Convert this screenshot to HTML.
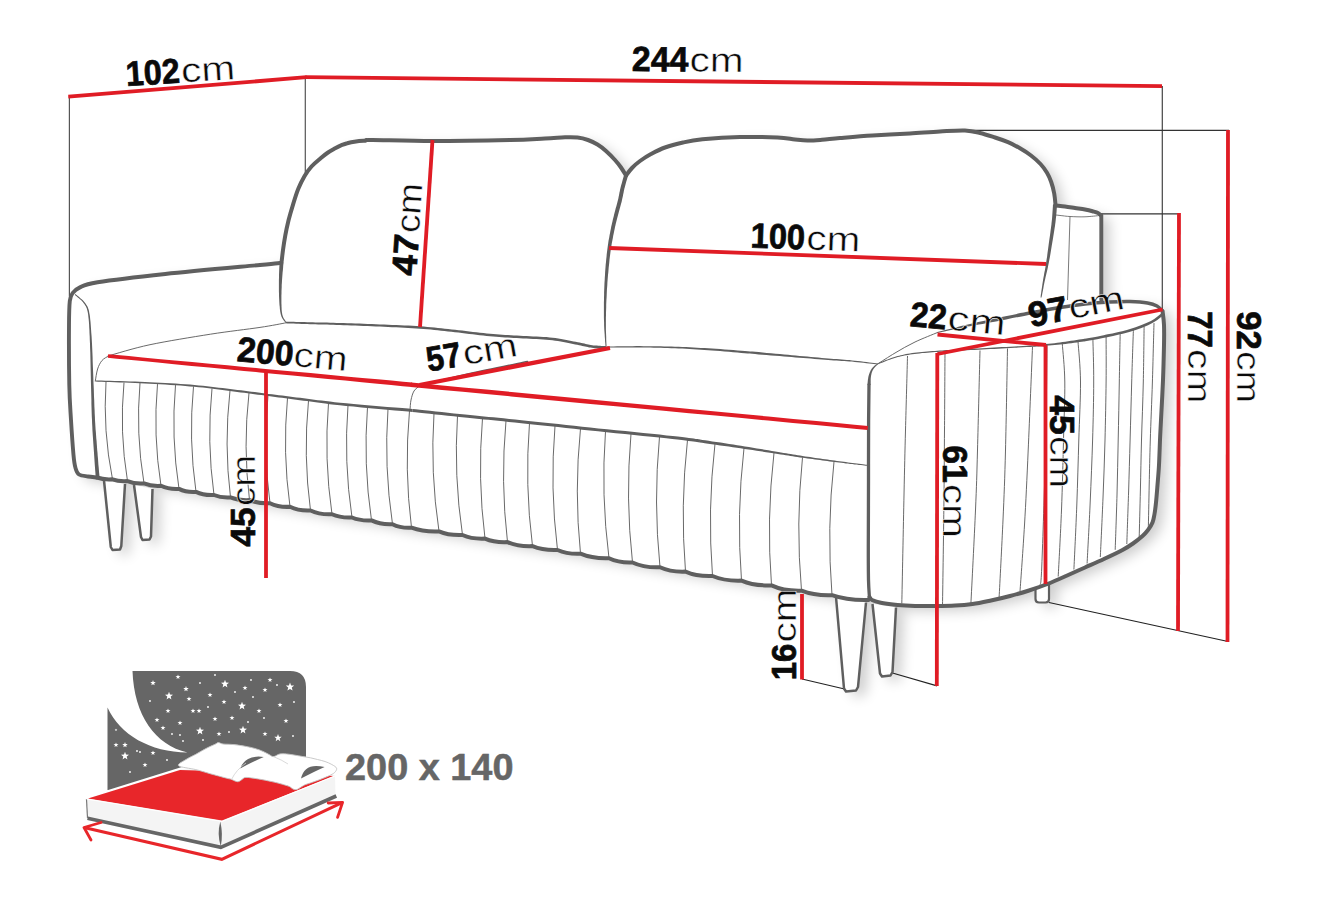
<!DOCTYPE html>
<html lang="en">
<head>
<meta charset="utf-8">
<title>Sofa dimensions</title>
<style>
html,body{margin:0;padding:0;background:#fff;}
body{width:1330px;height:908px;overflow:hidden;}
svg{display:block;}
text{font-family:"Liberation Sans",sans-serif;}
</style>
</head>
<body>
<svg width="1330" height="908" viewBox="0 0 1330 908">
<defs>
<filter id="sh" x="-5%" y="-5%" width="112%" height="115%">
<feGaussianBlur in="SourceAlpha" stdDeviation="6.5" result="b"/>
<feOffset in="b" dx="8" dy="5" result="o"/>
<feComponentTransfer in="o" result="s"><feFuncA type="linear" slope="0.2"/></feComponentTransfer>
<feMerge><feMergeNode in="s"/><feMergeNode in="SourceGraphic"/></feMerge>
</filter>
</defs>
<rect width="1330" height="908" fill="#fff"/>
<!-- sofa drawing -->
<g filter="url(#sh)">
<path d="M280.0 263.0L278.7 263.1L277.6 263.3L275.9 263.4L272.9 263.7L267.9 264.2L260.0 265.0L248.2 266.1L233.0 267.5L215.6 269.1L197.6 270.8L180.4 272.5L165.3 274.0L151.9 275.5L138.9 276.9L126.7 278.4L115.5 279.8L105.7 281.1L97.6 282.3L91.6 283.4L87.5 284.3L84.7 285.1L82.9 285.9L81.3 286.8L79.5 287.6L77.7 288.5L76.3 289.3L75.2 290.1L74.3 290.9L73.6 291.9L72.8 292.9L72.1 293.9L71.4 294.8L70.9 295.8L70.5 297.0L70.1 298.7L69.8 301.0L69.5 303.7L69.3 306.5L69.2 309.8L69.1 313.7L69.0 318.7L69.0 325.0L69.0 333.2L69.0 343.3L69.0 354.3L69.1 365.5L69.2 376.0L69.3 385.0L69.5 392.3L69.7 398.5L70.0 404.1L70.3 409.3L70.7 414.5L71.0 420.0L71.4 426.1L71.8 432.5L72.2 438.9L72.7 445.0L73.1 450.4L73.5 455.0L73.8 458.5L74.1 461.2L74.4 463.3L74.7 465.0L75.1 466.5L75.5 468.0L75.9 469.5L76.4 470.8L76.8 471.9L77.4 472.9L78.1 473.8L79.0 474.5L80.2 475.1L81.6 475.5L83.2 475.8L84.8 476.1L86.4 476.3L88.0 476.5L89.6 476.7L91.3 476.9L93.1 477.1L94.7 477.3L96.0 477.4L97.0 477.5L97.0 477.5L99.9 477.8L103.9 478.3L108.7 478.8L113.9 479.4L119.5 480.1L125.0 480.8L130.5 481.5L136.2 482.2L142.2 483.0L148.5 483.9L155.3 484.9L162.5 486.0L170.4 487.3L179.0 488.8L188.0 490.5L197.1 492.1L206.2 493.7L215.0 495.2L223.6 496.5L232.3 497.7L240.9 498.9L249.4 500.0L257.4 501.2L265.0 502.3L272.0 503.4L278.4 504.6L284.5 505.7L290.5 506.8L296.4 507.9L302.5 509.0L308.8 510.2L315.2 511.3L321.6 512.5L327.9 513.7L334.0 514.8L340.0 515.8L345.6 516.7L351.0 517.4L356.2 518.1L361.5 518.8L366.9 519.6L372.5 520.5L378.5 521.6L384.9 522.8L391.4 524.0L397.9 525.3L404.1 526.5L410.0 527.5L415.5 528.3L420.8 529.1L425.9 529.7L430.8 530.3L435.5 530.9L440.0 531.5L443.9 532.1L447.1 532.6L450.2 533.0L453.4 533.6L457.4 534.2L462.5 535.0L469.0 536.0L476.5 537.2L484.7 538.5L493.2 539.9L501.8 541.2L510.0 542.5L517.9 543.7L525.7 545.0L533.6 546.2L541.5 547.5L549.4 548.7L557.5 550.0L566.0 551.3L574.9 552.8L583.9 554.2L592.6 555.6L600.6 556.9L607.5 558.0L612.9 558.9L617.1 559.7L620.6 560.3L624.0 560.9L627.8 561.6L632.5 562.5L638.4 563.6L645.2 564.7L652.3 566.0L659.5 567.3L666.4 568.4L672.5 569.5L677.7 570.4L682.2 571.1L686.4 571.8L690.6 572.5L695.0 573.2L700.0 574.0L705.7 574.9L711.8 575.9L718.1 576.9L724.6 577.9L731.1 579.0L737.5 580.0L743.9 581.0L750.5 582.1L757.0 583.1L763.4 584.1L769.5 585.1L775.0 586.0L779.7 586.8L783.8 587.6L787.5 588.3L791.2 589.0L795.3 589.7L800.0 590.5L805.6 591.4L811.8 592.3L818.4 593.3L825.0 594.2L831.5 595.2L837.5 596.0L843.4 596.8L849.5 597.6L855.3 598.3L860.7 599.0L865.2 599.6L868.5 600.0L869.5 597.0L869.7 597.3L869.9 597.8L870.1 598.3L870.5 598.9L871.1 599.5L872.0 600.0L873.2 600.5L874.6 601.0L876.2 601.6L878.0 602.1L879.9 602.6L882.0 603.0L884.2 603.4L886.7 603.8L889.3 604.1L892.0 604.4L894.7 604.7L897.5 605.0L900.3 605.2L903.1 605.4L906.0 605.6L908.9 605.8L911.9 605.9L915.0 606.0L918.2 606.1L921.5 606.1L924.8 606.1L928.2 606.1L931.6 606.0L935.0 606.0L938.4 606.0L941.8 605.9L945.2 605.8L948.5 605.8L951.8 605.6L955.0 605.5L958.0 605.3L961.0 605.1L963.8 604.9L966.7 604.7L969.6 604.4L972.5 604.0L975.5 603.5L978.6 603.0L981.7 602.4L984.8 601.8L987.9 601.2L991.0 600.5L994.1 599.8L997.3 599.1L1000.5 598.4L1003.6 597.6L1006.8 596.8L1010.0 596.0L1013.2 595.2L1016.4 594.3L1019.5 593.4L1022.7 592.4L1025.9 591.5L1029.0 590.5L1032.1 589.5L1035.2 588.5L1038.3 587.4L1041.4 586.3L1044.4 585.2L1047.5 584.0L1050.6 582.8L1053.6 581.5L1056.7 580.1L1059.8 578.8L1062.9 577.4L1066.0 576.0L1069.1 574.6L1072.3 573.2L1075.5 571.8L1078.6 570.4L1081.8 568.9L1085.0 567.5L1088.2 566.1L1091.4 564.7L1094.5 563.3L1097.7 561.9L1100.9 560.4L1104.0 559.0L1107.2 557.5L1110.5 555.9L1113.8 554.4L1116.9 552.8L1119.9 551.4L1122.5 550.0L1124.7 548.8L1126.6 547.7L1128.3 546.7L1129.9 545.6L1131.4 544.6L1133.0 543.5L1134.7 542.3L1136.4 541.0L1138.1 539.7L1139.7 538.4L1141.2 537.2L1142.5 536.0L1143.7 534.9L1144.7 533.9L1145.6 533.0L1146.4 532.1L1147.2 531.1L1148.0 530.0L1148.8 528.8L1149.7 527.6L1150.5 526.4L1151.2 525.1L1151.9 523.8L1152.5 522.5L1153.0 521.2L1153.4 519.9L1153.7 518.5L1154.0 517.1L1154.2 515.6L1154.5 514.0L1154.8 512.3L1155.0 510.6L1155.3 508.8L1155.5 506.9L1155.8 504.8L1156.0 502.5L1156.3 500.0L1156.5 497.2L1156.8 494.3L1157.0 491.2L1157.2 488.1L1157.5 485.0L1157.8 481.9L1158.0 478.7L1158.3 475.5L1158.5 472.1L1158.8 468.7L1159.0 465.0L1159.2 461.1L1159.4 456.9L1159.5 452.5L1159.7 448.1L1159.8 443.9L1160.0 440.0L1160.2 436.6L1160.3 433.7L1160.4 430.9L1160.6 428.0L1160.8 424.4L1161.0 420.0L1161.3 414.4L1161.6 408.0L1162.0 400.9L1162.4 393.7L1162.7 386.6L1163.0 380.0L1163.2 373.7L1163.4 367.4L1163.6 361.2L1163.8 355.4L1163.9 349.9L1164.0 345.0L1164.1 340.7L1164.1 337.0L1164.2 333.7L1164.1 330.7L1164.1 327.8L1164.0 325.0L1163.8 322.2L1163.6 319.4L1163.2 316.8L1162.9 314.4L1162.7 312.5L1162.5 311.0L1162.5 311.0L1161.9 310.4L1161.2 309.6L1160.3 308.7L1159.3 307.7L1158.2 306.8L1157.0 306.0L1155.7 305.4L1154.4 304.8L1153.0 304.3L1151.4 303.8L1149.6 303.4L1147.5 303.0L1145.1 302.6L1142.4 302.3L1139.4 302.0L1136.3 301.8L1133.2 301.6L1130.0 301.5L1126.9 301.5L1123.7 301.5L1120.5 301.5L1117.1 301.6L1113.7 301.8L1110.0 302.0L1106.1 302.2L1102.0 302.5L1101.5 215.5L1101.0 215.5L1100.7 215.2L1100.3 214.8L1099.8 214.4L1099.3 213.9L1098.7 213.4L1098.0 213.0L1097.3 212.7L1096.4 212.4L1095.5 212.1L1094.6 211.8L1093.6 211.6L1092.5 211.3L1091.4 211.0L1090.2 210.7L1089.0 210.4L1087.8 210.1L1086.4 209.8L1085.0 209.5L1083.5 209.2L1081.9 209.0L1080.2 208.7L1078.4 208.5L1076.7 208.2L1075.0 208.0L1073.3 207.7L1071.7 207.5L1070.0 207.2L1068.3 207.0L1066.7 206.7L1065.0 206.5L1063.2 206.3L1061.3 206.1L1059.4 205.9L1057.6 205.7L1056.1 205.6L1055.0 205.5L1055.5 205.0L1055.4 203.7L1055.2 202.0L1055.0 200.0L1054.8 197.8L1054.5 195.5L1054.2 193.5L1053.8 191.6L1053.4 189.6L1052.9 187.6L1052.4 185.7L1051.8 183.8L1051.2 182.0L1050.6 180.3L1050.0 178.7L1049.3 177.2L1048.6 175.8L1047.8 174.3L1047.0 172.8L1046.1 171.3L1045.1 169.8L1044.1 168.4L1043.0 166.9L1041.8 165.4L1040.5 164.0L1039.1 162.6L1037.6 161.1L1036.0 159.7L1034.4 158.2L1032.7 156.8L1031.0 155.5L1029.3 154.2L1027.5 153.0L1025.7 151.8L1023.8 150.6L1021.9 149.4L1020.0 148.3L1018.1 147.2L1016.1 146.1L1014.1 145.1L1012.1 144.1L1010.1 143.1L1008.0 142.2L1005.9 141.3L1003.8 140.5L1001.7 139.8L999.5 139.0L997.3 138.3L995.0 137.5L992.6 136.7L990.1 135.9L987.6 135.1L985.1 134.3L982.5 133.6L980.0 133.0L977.6 132.4L975.4 131.9L973.1 131.4L970.7 131.0L968.1 130.7L965.0 130.5L961.5 130.5L957.6 130.5L953.4 130.7L949.1 131.0L944.6 131.2L940.0 131.5L935.4 131.8L930.6 132.1L925.8 132.4L920.7 132.8L915.5 133.2L910.0 133.5L904.1 133.8L897.9 134.1L891.4 134.5L884.9 134.8L878.5 135.1L872.5 135.5L866.6 135.9L860.8 136.3L855.0 136.8L849.6 137.2L844.5 137.6L840.0 138.0L836.1 138.4L832.8 138.7L829.9 139.0L827.2 139.3L824.6 139.6L822.0 139.8L819.4 140.0L816.8 140.2L814.4 140.3L812.1 140.4L809.8 140.5L807.5 140.5L805.4 140.4L803.4 140.3L801.4 140.2L799.5 140.0L797.3 139.7L795.0 139.5L792.6 139.2L790.3 138.9L787.8 138.5L785.0 138.1L781.6 137.8L777.5 137.5L772.4 137.3L766.5 137.1L760.0 137.0L753.2 136.9L746.5 136.9L740.0 137.0L733.5 137.2L726.8 137.5L720.1 137.9L713.7 138.4L707.7 138.8L702.5 139.3L698.2 139.8L694.6 140.2L691.5 140.7L688.7 141.3L686.0 141.9L683.0 142.5L679.9 143.2L676.7 144.0L673.7 144.8L670.6 145.7L667.8 146.6L665.0 147.5L662.4 148.5L659.9 149.5L657.6 150.6L655.3 151.7L653.1 152.9L651.0 154.0L649.0 155.1L647.0 156.3L645.1 157.5L643.3 158.6L641.6 159.8L640.0 161.0L638.5 162.2L637.0 163.3L635.7 164.5L634.4 165.6L633.2 166.8L632.0 168.0L630.8 169.3L629.6 170.7L628.5 172.2L627.5 173.5L626.6 174.7L626.0 175.5L626.0 175.5L625.5 174.6L624.7 173.4L623.9 172.0L622.9 170.4L621.9 168.9L621.0 167.5L620.1 166.2L619.2 165.0L618.2 163.8L617.3 162.6L616.2 161.3L615.0 160.0L613.7 158.6L612.2 157.0L610.7 155.4L609.1 153.9L607.5 152.4L606.0 151.0L604.6 149.7L603.2 148.6L601.8 147.5L600.4 146.4L599.0 145.4L597.5 144.5L596.0 143.6L594.4 142.8L592.9 142.0L591.3 141.3L589.7 140.6L588.0 140.0L586.3 139.4L584.6 138.9L582.9 138.5L581.2 138.1L579.4 137.8L577.5 137.5L575.6 137.3L573.8 137.2L571.8 137.2L569.8 137.2L567.5 137.2L565.0 137.3L562.3 137.4L559.4 137.6L556.4 137.8L553.1 138.0L549.3 138.3L545.0 138.5L540.5 138.7L536.0 139.0L531.1 139.3L525.4 139.5L518.5 139.8L510.0 140.0L499.3 140.2L486.7 140.4L472.8 140.7L458.6 140.8L444.9 141.0L432.5 141.0L420.9 140.9L409.2 140.8L398.1 140.5L387.9 140.3L379.2 140.1L372.5 140.0L368.3 140.0L366.3 140.1L365.7 140.2L365.9 140.4L366.0 140.6L365.3 140.7L363.9 140.8L362.3 140.9L360.8 141.0L359.1 141.2L357.5 141.3L356.0 141.5L354.5 141.7L352.9 142.0L351.4 142.3L349.9 142.6L348.5 142.9L347.2 143.2L346.0 143.5L344.9 143.9L343.9 144.2L342.9 144.6L342.0 145.0L341.0 145.4L340.0 145.8L339.1 146.2L338.2 146.7L337.3 147.2L336.3 147.7L335.2 148.3L334.0 149.0L332.7 149.7L331.4 150.5L330.0 151.3L328.6 152.1L327.3 153.0L326.0 153.9L324.8 154.8L323.6 155.8L322.3 156.8L321.1 157.9L319.8 159.0L318.4 160.1L317.0 161.3L315.6 162.5L314.2 163.8L312.8 165.1L311.5 166.5L310.3 167.9L309.1 169.4L307.9 170.9L306.8 172.5L305.7 174.2L304.6 176.0L303.5 177.9L302.4 180.0L301.3 182.1L300.2 184.3L299.2 186.6L298.2 189.0L297.2 191.5L296.3 194.2L295.4 197.0L294.5 199.9L293.6 202.6L292.8 205.3L292.0 207.8L291.3 210.3L290.6 212.7L289.9 215.1L289.2 217.5L288.6 220.0L288.0 222.5L287.4 225.1L286.8 227.7L286.3 230.2L285.8 232.8L285.3 235.3L284.8 237.8L284.4 240.3L284.0 242.8L283.7 245.3L283.3 247.7L283.0 250.0L282.7 252.4L282.4 254.8L282.1 257.2L281.9 259.3L281.7 261.2L281.5 262.5Z" fill="#fff"/>
<path d="M104.0 480.5L110.8 547.0L112.5 550.0L120.0 549.5L121.3 546.0L125.0 484.0Z" fill="#fff"/>
<path d="M134.0 485.0L141.0 537.0L142.5 540.0L149.5 539.5L151.0 536.5L152.5 489.0Z" fill="#fff"/>
<path d="M836.0 597.0L844.0 688.5L846.0 691.5L856.0 690.5L858.0 687.0L866.0 602.5Z" fill="#fff"/>
<path d="M872.5 604.0L880.0 673.5L882.0 676.5L890.5 675.5L892.5 672.0L896.0 607.5Z" fill="#fff"/>
<path d="M1035.5 587.5V599Q1035.5 602.5 1039 602.5H1045.5Q1049 602.5 1049 599V584Z" fill="#fff"/>
</g>
<line x1="69.4" y1="96.0" x2="69.4" y2="296.0" stroke="#555" stroke-width="1.2" stroke-linecap="butt"/>
<line x1="305.3" y1="77.0" x2="305.3" y2="176.0" stroke="#555" stroke-width="1.2" stroke-linecap="butt"/>
<line x1="1162.3" y1="86.0" x2="1162.3" y2="309.0" stroke="#444" stroke-width="1.2" stroke-linecap="butt"/>
<line x1="962.0" y1="130.3" x2="1229.0" y2="130.3" stroke="#333" stroke-width="1.2" stroke-linecap="butt"/>
<line x1="1101.0" y1="213.8" x2="1180.0" y2="213.8" stroke="#333" stroke-width="1.2" stroke-linecap="butt"/>
<line x1="1049.0" y1="602.5" x2="1228.0" y2="641.5" stroke="#222" stroke-width="1.2" stroke-linecap="butt"/>
<line x1="802.0" y1="679.0" x2="844.5" y2="689.0" stroke="#222" stroke-width="1.2" stroke-linecap="butt"/>
<line x1="892.5" y1="673.0" x2="937.0" y2="685.8" stroke="#222" stroke-width="1.2" stroke-linecap="butt"/>
<path d="M106.0 381.9 Q102.8 430.6 112.5 479.3M124.0 382.5 Q119.3 431.8 127.5 481.1M140.0 383.0 Q135.6 433.2 144.0 483.4M157.5 384.1 Q152.9 434.9 161.0 485.8M175.5 385.1 Q170.9 437.0 179.0 488.9M193.5 386.4 Q188.4 439.1 196.0 491.9M212.0 388.5 Q206.6 441.7 214.0 495.0M230.0 390.5 Q223.9 444.0 230.5 497.4M249.0 392.9 Q242.9 446.5 249.5 500.1M268.0 395.4 Q262.6 449.3 270.0 503.2M287.5 397.9 Q282.4 452.3 290.0 506.8M308.5 400.6 Q303.1 455.5 310.5 510.5M328.5 403.1 Q323.9 458.7 332.0 514.3M348.0 405.2 Q343.6 461.4 352.0 517.5M367.5 407.0 Q363.1 463.7 371.5 520.4M388.0 408.8 Q383.9 466.5 392.5 524.2M409.5 410.7 Q404.1 469.2 411.5 527.7M434.0 413.3 Q430.1 472.3 439.0 531.4M457.5 415.7 Q453.6 475.4 462.5 535.0M482.5 418.2 Q477.4 478.4 485.0 538.6M506.0 420.6 Q500.4 481.4 507.5 542.1M529.5 423.0 Q524.6 484.5 532.5 546.1M555.0 425.8 Q549.8 487.9 557.5 550.0M580.5 428.5 Q574.1 491.1 580.5 553.7M605.5 431.1 Q600.8 494.7 609.0 558.3M631.0 433.7 Q625.3 498.1 632.5 562.5M659.5 436.7 Q653.3 502.0 660.0 567.3M687.5 439.9 Q680.1 505.8 685.5 571.6M715.0 443.7 Q707.3 509.9 712.5 576.0M744.0 448.1 Q736.3 514.4 741.5 580.6M774.0 452.8 Q766.3 519.1 771.5 585.4M802.5 457.4 Q795.6 524.0 801.5 590.7M834.0 461.7 Q826.6 528.4 832.0 595.2" fill="none" stroke="#585858" stroke-width="0.9"/>
<path d="M907.5 356.0C907.2 368.3 906.1 406.8 905.5 430.0C904.9 453.2 904.6 466.1 904.0 495.0C903.4 523.9 902.2 585.4 901.8 603.5M945.0 352.5C944.9 365.4 944.7 406.2 944.5 430.0C944.3 453.8 944.3 465.8 944.0 495.0C943.7 524.2 942.8 587.1 942.5 605.5M980.0 350.5C979.6 367.1 978.2 423.4 977.5 450.0C976.8 476.6 976.6 484.4 975.5 510.0C974.4 535.6 971.7 587.9 970.9 603.5M1007.5 348.5C1007.2 365.4 1006.2 421.4 1005.5 450.0C1004.8 478.6 1004.1 495.4 1003.0 520.0C1001.9 544.6 999.8 584.6 999.1 597.5M1032.5 346.8C1031.8 364.0 1029.5 420.3 1028.2 450.0C1026.9 479.7 1025.9 501.4 1024.5 525.0C1023.1 548.6 1020.8 580.4 1020.0 591.5M1047.0 345.5C1046.8 362.9 1046.4 413.2 1045.5 450.0C1044.6 486.8 1042.7 543.4 1041.8 566.0C1040.9 588.6 1040.3 582.2 1040.0 585.5M1062.3 343.8C1062.7 350.2 1064.6 366.0 1064.8 382.0C1065.0 398.0 1064.0 418.7 1063.5 440.0C1063.0 461.3 1062.4 487.2 1061.5 510.0C1060.6 532.8 1058.8 565.4 1058.2 576.5M1078.0 341.3C1078.4 348.1 1080.4 365.6 1080.5 382.0C1080.6 398.4 1079.4 419.5 1078.8 440.0C1078.2 460.5 1077.6 483.4 1076.8 505.0C1076.0 526.6 1074.4 558.8 1073.9 569.5M1092.9 338.8C1093.0 346.0 1093.8 365.1 1093.7 382.0C1093.7 398.9 1093.2 420.0 1092.6 440.0C1092.0 460.0 1091.1 481.4 1090.2 502.0C1089.3 522.6 1087.6 553.2 1087.1 563.5M1106.1 336.4C1106.1 344.0 1106.3 364.7 1106.1 382.0C1105.9 399.3 1105.5 420.7 1105.0 440.0C1104.5 459.3 1103.8 478.5 1103.0 498.0C1102.2 517.5 1100.8 547.2 1100.3 557.0M1120.2 333.0C1120.0 341.2 1119.6 364.2 1119.3 382.0C1119.0 399.8 1118.6 421.2 1118.2 440.0C1117.8 458.8 1117.5 476.7 1117.0 495.0C1116.5 513.3 1115.5 540.7 1115.2 549.8M1133.4 329.8C1133.1 338.5 1132.2 363.6 1131.7 382.0C1131.2 400.4 1130.6 421.7 1130.1 440.0C1129.6 458.3 1129.1 474.7 1128.6 492.0C1128.0 509.3 1127.1 535.3 1126.8 544.0M1144.1 326.4C1144.0 335.7 1143.7 363.1 1143.3 382.0C1142.9 400.9 1142.0 422.0 1141.5 440.0C1141.0 458.0 1140.8 473.8 1140.4 490.0C1140.0 506.2 1139.4 529.6 1139.2 537.5M1154.0 323.1C1153.7 332.9 1153.0 362.5 1152.4 382.0C1151.8 401.5 1150.8 422.8 1150.3 440.0C1149.8 457.2 1149.5 470.2 1149.2 485.0C1148.9 499.8 1148.5 521.7 1148.3 529.0" fill="none" stroke="#585858" stroke-width="0.9"/>
<path d="M280.0 263.0C276.7 263.3 279.1 263.2 260.0 265.0C240.9 266.8 192.4 271.1 165.3 274.0C138.2 276.9 111.9 280.0 97.6 282.3C83.3 284.6 83.6 285.8 79.5 287.6C75.4 289.4 74.4 290.7 72.8 292.9C71.2 295.1 70.4 295.6 69.8 301.0C69.2 306.4 69.1 311.0 69.0 325.0C68.9 339.0 69.0 369.2 69.3 385.0C69.6 400.8 70.3 408.3 71.0 420.0C71.7 431.7 72.8 447.0 73.5 455.0C74.2 463.0 74.6 464.8 75.5 468.0C76.4 471.2 76.9 473.1 79.0 474.5C81.1 475.9 85.0 476.0 88.0 476.5C91.0 477.0 95.5 477.3 97.0 477.5" fill="none" stroke="#5f5f5f" stroke-width="3.9" stroke-linecap="round" stroke-linejoin="round" />
<path fill="#5f5f5f" d="M74.7 294.7L75.3 295.2L76.0 295.9L76.9 296.6L77.8 297.4L78.9 298.3L79.9 299.2L81.0 300.1L81.9 301.1L82.8 302.0L83.5 303.0L84.1 303.8L84.7 304.6L85.2 305.4L85.7 306.1L86.1 306.9L86.5 307.8L86.9 308.8L87.2 310.0L87.6 311.4L87.9 313.1L88.2 315.1L88.4 317.1L88.7 319.4L88.9 321.8L89.1 324.4L89.2 327.2L89.4 330.1L89.5 333.2L89.7 336.5L89.8 340.0L90.0 343.9L90.1 348.0L90.3 352.5L90.4 357.2L90.5 362.0L90.6 366.9L90.7 371.7L90.8 376.4L90.9 380.9L91.0 385.0L91.1 389.0L91.2 392.8L91.3 396.4L91.4 400.0L91.4 403.5L91.5 406.9L91.6 410.2L91.7 413.5L91.8 416.8L92.0 420.1L92.1 423.3L92.3 426.5L92.4 429.6L92.6 432.7L92.8 435.7L93.0 438.6L93.2 441.6L93.4 444.5L93.6 447.3L93.8 450.1L94.0 453.0L94.2 456.0L94.4 459.0L94.6 462.1L94.8 465.0L95.0 467.8L95.2 470.4L95.4 472.7L95.5 474.6L95.6 476.1L99.4 475.9L99.3 474.3L99.1 472.4L98.9 470.1L98.7 467.5L98.4 464.7L98.2 461.8L98.0 458.8L97.7 455.7L97.5 452.8L97.2 449.9L97.0 447.1L96.8 444.2L96.6 441.3L96.3 438.4L96.1 435.4L95.9 432.4L95.6 429.4L95.4 426.3L95.2 423.1L95.0 419.9L94.9 416.7L94.7 413.4L94.6 410.1L94.4 406.8L94.3 403.4L94.2 399.9L94.0 396.4L93.9 392.7L93.8 388.9L93.6 385.0L93.4 380.8L93.3 376.3L93.1 371.6L92.9 366.8L92.7 362.0L92.6 357.1L92.4 352.5L92.2 348.0L92.0 343.8L91.8 340.0L91.6 336.4L91.3 333.1L91.1 330.0L90.9 327.1L90.7 324.3L90.5 321.7L90.2 319.2L90.0 317.0L89.7 314.8L89.3 312.9L89.0 311.1L88.6 309.6L88.2 308.4L87.8 307.3L87.3 306.3L86.8 305.5L86.3 304.7L85.8 303.9L85.2 303.1L84.5 302.2L83.7 301.3L82.8 300.3L81.7 299.3L80.6 298.4L79.6 297.4L78.5 296.6L77.5 295.8L76.6 295.1L75.9 294.5L75.3 294.1Z"/>
<path d="M108.0 356.0C115.0 354.1 132.9 348.3 150.0 344.7C167.1 341.1 192.1 337.1 210.4 334.2C228.7 331.3 247.4 329.3 260.0 327.4C272.6 325.5 281.7 323.6 286.0 322.8" fill="none" stroke="#585858" stroke-width="0.9" stroke-linecap="round" stroke-linejoin="round" />
<path d="M108.5 356.0C107.4 356.8 103.8 358.3 102.0 360.5C100.2 362.7 98.7 365.6 97.6 369.0C96.5 372.4 95.7 379.0 95.3 381.0" fill="none" stroke="#585858" stroke-width="0.9" stroke-linecap="round" stroke-linejoin="round" />
<path fill="#5f5f5f" d="M95.5 381.6L98.1 381.7L101.4 381.8L105.4 381.9L109.8 382.1L114.6 382.2L119.6 382.4L124.8 382.6L130.0 382.8L135.1 383.0L140.0 383.2L144.8 383.5L149.8 383.7L154.9 384.0L160.0 384.3L165.2 384.6L170.4 384.9L175.5 385.3L180.5 385.6L185.3 386.0L189.9 386.4L194.3 386.8L198.6 387.2L202.8 387.6L206.9 388.1L210.8 388.6L214.7 389.1L218.6 389.5L222.4 390.0L226.1 390.5L229.9 391.0L233.6 391.4L237.2 391.9L240.7 392.4L244.2 392.8L247.7 393.3L251.1 393.7L254.5 394.2L257.9 394.7L261.4 395.1L264.9 395.6L268.3 396.0L271.8 396.5L275.2 396.9L278.6 397.4L282.0 397.8L285.5 398.3L289.0 398.8L292.5 399.2L296.1 399.7L299.8 400.2L303.5 400.7L307.0 401.1L310.4 401.6L313.9 402.1L317.5 402.6L321.3 403.1L325.3 403.6L329.7 404.2L334.5 404.7L339.9 405.3L346.1 405.9L353.5 406.6L361.5 407.4L370.0 408.2L378.6 409.0L387.0 409.7L394.9 410.4L402.0 411.1L407.9 411.6L412.4 412.0L412.6 409.0L408.2 408.6L402.2 408.1L395.2 407.5L387.3 406.9L378.9 406.2L370.3 405.4L361.8 404.7L353.7 404.0L346.4 403.3L340.1 402.7L334.8 402.2L330.0 401.6L325.6 401.1L321.6 400.6L317.8 400.2L314.2 399.7L310.8 399.2L307.3 398.8L303.8 398.3L300.2 397.8L296.4 397.4L292.8 396.9L289.3 396.5L285.8 396.0L282.3 395.6L278.9 395.2L275.5 394.7L272.1 394.3L268.6 393.9L265.1 393.4L261.7 393.0L258.2 392.5L254.8 392.1L251.4 391.7L247.9 391.2L244.5 390.8L241.0 390.3L237.4 389.9L233.8 389.5L230.1 389.0L226.4 388.6L222.6 388.1L218.8 387.7L215.0 387.2L211.0 386.7L207.1 386.3L203.0 385.8L198.8 385.4L194.5 385.0L190.1 384.6L185.4 384.3L180.6 383.9L175.6 383.6L170.5 383.3L165.3 383.0L160.1 382.7L155.0 382.5L149.8 382.2L144.9 382.0L140.0 381.8L135.2 381.6L130.1 381.4L124.9 381.2L119.7 381.1L114.6 380.9L109.9 380.8L105.4 380.7L101.5 380.6L98.1 380.5L95.5 380.4Z"/>
<path fill="#5f5f5f" d="M412.3 412.0L415.5 412.3L419.5 412.7L424.3 413.3L429.7 413.8L435.5 414.4L441.5 415.1L447.6 415.7L453.7 416.3L459.5 416.9L464.8 417.5L469.8 418.0L474.6 418.5L479.2 418.9L483.8 419.4L488.4 419.8L493.2 420.3L498.1 420.8L503.3 421.3L508.8 421.9L514.8 422.5L521.3 423.2L528.1 423.9L535.3 424.7L542.7 425.5L550.3 426.3L558.1 427.1L566.0 428.0L574.0 428.8L581.9 429.7L589.8 430.5L598.0 431.3L606.7 432.2L615.8 433.2L624.9 434.1L634.1 435.0L642.9 435.9L651.4 436.8L659.2 437.6L666.3 438.3L672.3 439.0L677.4 439.6L681.8 440.1L685.5 440.5L688.6 440.9L691.2 441.3L693.4 441.6L695.3 441.8L696.9 442.1L698.4 442.3L699.8 442.5L700.2 439.5L698.8 439.3L697.4 439.1L695.7 438.9L693.8 438.6L691.6 438.3L689.0 437.9L685.8 437.5L682.1 437.1L677.8 436.6L672.7 436.0L666.6 435.4L659.6 434.6L651.7 433.8L643.3 432.9L634.4 432.0L625.3 431.1L616.1 430.2L607.1 429.3L598.3 428.4L590.2 427.5L582.2 426.7L574.3 425.8L566.3 425.0L558.4 424.1L550.6 423.3L543.0 422.5L535.6 421.7L528.4 420.9L521.6 420.2L515.2 419.5L509.2 418.9L503.6 418.3L498.4 417.8L493.5 417.3L488.7 416.9L484.1 416.4L479.5 415.9L474.9 415.5L470.1 415.0L465.2 414.5L459.8 414.0L454.0 413.4L447.9 412.7L441.8 412.1L435.8 411.4L430.0 410.8L424.6 410.3L419.8 409.8L415.8 409.3L412.7 409.0Z"/>
<path fill="#5f5f5f" d="M699.8 442.5L702.0 442.8L704.8 443.2L708.1 443.7L711.9 444.2L715.9 444.8L720.1 445.4L724.5 446.0L728.7 446.6L732.9 447.2L736.8 447.8L740.6 448.3L744.6 448.9L748.5 449.5L752.6 450.1L756.6 450.7L760.5 451.3L764.3 451.9L768.0 452.5L771.6 453.0L774.8 453.5L777.9 454.0L780.7 454.4L783.3 454.8L785.8 455.2L788.2 455.6L790.5 456.0L792.8 456.3L795.1 456.7L797.4 457.0L799.9 457.4L802.4 457.7L804.9 458.1L807.4 458.4L810.0 458.8L812.5 459.1L815.0 459.5L817.5 459.8L820.0 460.1L822.5 460.4L824.9 460.7L827.3 461.1L829.7 461.4L832.1 461.7L834.4 462.0L836.8 462.2L839.1 462.5L841.4 462.8L843.6 463.1L845.8 463.4L847.9 463.6L850.1 463.9L852.3 464.1L854.5 464.4L856.7 464.6L858.9 464.9L860.9 465.1L862.8 465.3L864.4 465.5L865.8 465.7L866.9 465.8L867.1 464.8L865.9 464.7L864.5 464.5L862.9 464.3L861.0 464.0L859.0 463.8L856.9 463.5L854.7 463.2L852.4 463.0L850.2 462.7L848.1 462.4L845.9 462.1L843.8 461.8L841.5 461.5L839.3 461.2L837.0 460.9L834.6 460.6L832.3 460.3L829.9 459.9L827.5 459.6L825.1 459.3L822.7 458.9L820.2 458.6L817.8 458.2L815.3 457.9L812.7 457.5L810.2 457.1L807.7 456.8L805.2 456.4L802.6 456.0L800.1 455.6L797.7 455.2L795.4 454.8L793.1 454.5L790.8 454.1L788.5 453.7L786.1 453.3L783.6 452.9L781.0 452.4L778.2 452.0L775.2 451.5L771.9 450.9L768.4 450.3L764.7 449.7L760.9 449.1L756.9 448.4L752.9 447.8L748.9 447.1L744.9 446.5L741.0 445.8L737.2 445.2L733.3 444.6L729.1 444.0L724.9 443.3L720.6 442.6L716.3 442.0L712.3 441.4L708.6 440.8L705.2 440.3L702.4 439.9L700.2 439.5Z"/>
<path d="M419.5 386.0C418.6 386.8 415.4 388.7 414.0 391.0C412.6 393.3 411.7 396.8 411.0 400.0C410.3 403.2 410.2 408.3 410.0 410.0" fill="none" stroke="#585858" stroke-width="0.9" stroke-linecap="round" stroke-linejoin="round" />
<path d="M419.5 385.5C427.9 383.5 452.0 377.5 470.0 373.5C488.0 369.5 517.9 363.5 527.5 361.5" fill="none" stroke="#5f5f5f" stroke-width="1.6" stroke-linecap="round" stroke-linejoin="round" />
<path d="M97.0 477.5Q103.5 479.9 112.5 479.3Q118.8 481.7 127.5 481.1Q134.4 484.0 144.0 483.4Q151.1 486.4 161.0 485.8Q168.6 489.5 179.0 488.9Q186.1 492.5 196.0 491.9Q203.6 495.6 214.0 495.0Q220.9 498.0 230.5 497.4Q238.5 500.7 249.5 500.1Q258.1 503.8 270.0 503.2Q278.4 507.4 290.0 506.8Q298.6 511.1 310.5 510.5Q319.5 514.9 332.0 514.3Q340.4 518.1 352.0 517.5Q360.2 521.0 371.5 520.4Q380.3 524.8 392.5 524.2Q400.5 528.3 411.5 527.7Q423.1 532.0 439.0 531.4Q448.9 535.6 462.5 535.0Q471.9 539.2 485.0 538.6Q494.4 542.7 507.5 542.1Q518.0 546.7 532.5 546.1Q543.0 550.6 557.5 550.0Q567.2 554.3 580.5 553.7Q592.5 558.9 609.0 558.3Q618.9 563.1 632.5 562.5Q644.0 567.9 660.0 567.3Q670.7 572.2 685.5 571.6Q696.8 576.6 712.5 576.0Q724.7 581.2 741.5 580.6Q754.1 586.0 771.5 585.4Q784.1 591.3 801.5 590.7Q814.3 595.8 832.0 595.2Q847.3 600.6 868.5 600.0" fill="none" stroke="#5f5f5f" stroke-width="4.0" stroke-linecap="round" stroke-linejoin="round"/>
<path d="M281.5 262.5C281.8 260.4 282.4 254.5 283.0 250.0C283.6 245.5 284.4 240.3 285.3 235.3C286.2 230.3 287.4 225.0 288.6 220.0C289.9 215.0 291.2 210.5 292.8 205.3C294.4 200.1 296.2 193.9 298.2 189.0C300.2 184.1 302.4 179.8 304.6 176.0C306.8 172.2 309.0 169.3 311.5 166.5C314.0 163.7 317.2 161.2 319.8 159.0C322.4 156.8 324.7 154.8 327.3 153.0C329.9 151.2 332.9 149.6 335.2 148.3C337.5 147.0 339.0 146.2 341.0 145.4C343.0 144.6 344.7 143.8 347.2 143.2C349.7 142.5 353.0 141.9 356.0 141.5C359.0 141.1 362.6 140.9 365.3 140.7C368.1 140.4 361.3 139.9 372.5 140.0C383.7 140.1 409.6 141.0 432.5 141.0C455.4 141.0 491.2 140.4 510.0 140.0C528.8 139.6 535.8 138.9 545.0 138.5C554.2 138.1 559.6 137.5 565.0 137.3C570.4 137.1 573.7 137.1 577.5 137.5C581.3 137.9 584.7 138.8 588.0 140.0C591.3 141.2 594.5 142.7 597.5 144.5C600.5 146.3 603.1 148.4 606.0 151.0C608.9 153.6 612.5 157.2 615.0 160.0C617.5 162.8 619.2 164.9 621.0 167.5C622.8 170.1 625.2 174.2 626.0 175.5" fill="none" stroke="#5f5f5f" stroke-width="4.0" stroke-linecap="round" stroke-linejoin="round" />
<path fill="#5f5f5f" d="M279.5 262.4L279.5 263.7L279.4 265.5L279.3 267.6L279.2 269.9L279.1 272.4L279.0 275.0L279.0 277.6L278.9 280.2L278.9 282.7L278.9 285.0L278.9 287.1L278.9 289.3L278.9 291.5L279.0 293.6L279.0 295.7L279.1 297.8L279.2 299.8L279.3 301.7L279.4 303.4L279.5 305.1L279.7 306.5L279.8 307.9L279.9 309.2L280.1 310.4L280.2 311.4L280.4 312.5L280.6 313.5L280.8 314.4L281.1 315.3L281.3 316.2L281.7 317.1L282.1 318.0L282.6 318.8L283.1 319.6L283.6 320.3L284.1 320.9L284.6 321.5L285.0 322.0L285.3 322.4L285.6 322.8L286.4 322.2L286.2 321.8L285.8 321.4L285.4 320.8L285.0 320.2L284.6 319.6L284.1 318.9L283.7 318.2L283.3 317.4L282.9 316.6L282.7 315.8L282.4 314.9L282.2 314.1L282.1 313.2L281.9 312.2L281.8 311.2L281.7 310.2L281.6 309.0L281.6 307.8L281.5 306.4L281.5 304.9L281.4 303.3L281.4 301.6L281.4 299.7L281.4 297.7L281.4 295.7L281.5 293.6L281.5 291.5L281.6 289.3L281.7 287.2L281.7 285.0L281.9 282.8L282.0 280.4L282.2 277.8L282.4 275.2L282.6 272.6L282.9 270.1L283.1 267.8L283.2 265.7L283.4 264.0L283.5 262.6Z"/>
<path fill="#5f5f5f" d="M286.0 323.2L287.4 323.4L289.1 323.4L291.2 323.5L293.6 323.6L296.1 323.7L298.8 323.8L301.6 323.9L304.4 324.0L307.2 324.1L310.0 324.2L312.7 324.2L315.4 324.3L318.2 324.4L321.1 324.5L324.0 324.6L327.0 324.6L330.0 324.7L333.2 324.8L336.5 324.9L340.0 325.0L343.6 325.2L347.3 325.3L351.2 325.4L355.2 325.6L359.3 325.8L363.5 325.9L367.6 326.1L371.8 326.3L375.9 326.4L380.0 326.6L384.0 326.8L388.0 327.0L392.1 327.2L396.2 327.3L400.3 327.5L404.3 327.7L408.3 327.9L412.3 328.2L416.1 328.4L419.9 328.7L423.6 329.0L427.2 329.3L430.8 329.6L434.2 330.0L437.7 330.3L441.1 330.7L444.5 331.1L447.9 331.4L451.4 331.8L454.9 332.2L458.4 332.6L461.9 333.0L465.5 333.4L469.1 333.9L472.7 334.3L476.2 334.7L479.7 335.2L483.2 335.6L486.6 335.9L489.9 336.2L493.1 336.5L496.2 336.8L499.2 337.0L502.2 337.2L505.1 337.4L508.0 337.6L510.9 337.7L513.8 337.9L516.8 338.1L519.9 338.3L523.1 338.5L526.4 338.6L529.7 338.8L533.1 339.0L536.5 339.1L539.8 339.3L543.1 339.5L546.3 339.7L549.4 340.0L552.4 340.3L555.2 340.7L557.9 341.1L560.7 341.5L563.3 342.0L565.9 342.5L568.4 343.0L570.7 343.5L573.0 344.0L575.2 344.4L577.2 344.8L579.1 345.2L580.8 345.5L582.3 345.9L583.8 346.2L585.1 346.5L586.4 346.8L587.7 347.1L589.1 347.4L590.4 347.6L591.8 347.8L593.3 348.0L594.9 348.2L596.6 348.3L598.2 348.4L599.8 348.5L601.4 348.6L602.8 348.7L604.0 348.7L605.1 348.8L605.9 348.8L606.1 346.2L605.2 346.1L604.2 346.0L602.9 346.0L601.5 345.9L600.0 345.8L598.4 345.8L596.8 345.6L595.2 345.5L593.6 345.4L592.2 345.2L590.8 345.0L589.5 344.7L588.3 344.5L587.0 344.2L585.7 343.9L584.4 343.6L582.9 343.3L581.4 342.9L579.6 342.6L577.8 342.2L575.7 341.8L573.6 341.4L571.3 340.9L568.9 340.4L566.4 339.9L563.8 339.4L561.1 338.9L558.3 338.5L555.5 338.1L552.6 337.7L549.7 337.4L546.5 337.1L543.3 336.9L540.0 336.7L536.6 336.6L533.2 336.4L529.9 336.2L526.5 336.1L523.3 335.9L520.1 335.7L517.0 335.5L514.0 335.4L511.0 335.2L508.1 335.0L505.2 334.9L502.3 334.7L499.4 334.5L496.4 334.3L493.3 334.0L490.1 333.8L486.8 333.4L483.5 333.1L480.0 332.7L476.5 332.3L473.0 331.9L469.4 331.4L465.8 331.0L462.2 330.6L458.7 330.2L455.1 329.8L451.7 329.4L448.2 329.0L444.8 328.7L441.4 328.3L437.9 327.9L434.5 327.6L431.0 327.2L427.4 326.9L423.8 326.6L420.1 326.3L416.3 326.1L412.4 325.8L408.4 325.6L404.4 325.4L400.4 325.2L396.3 325.1L392.2 324.9L388.1 324.7L384.1 324.6L380.0 324.4L376.0 324.2L371.9 324.1L367.7 323.9L363.6 323.7L359.4 323.6L355.3 323.5L351.3 323.3L347.4 323.2L343.6 323.1L340.0 323.0L336.6 322.9L333.3 322.8L330.1 322.7L327.0 322.6L324.0 322.5L321.1 322.5L318.3 322.4L315.5 322.4L312.7 322.3L310.0 322.2L307.3 322.2L304.5 322.1L301.6 322.0L298.8 322.0L296.2 321.9L293.6 321.8L291.3 321.8L289.2 321.7L287.4 321.7L286.0 321.8Z"/>
<path d="M626.0 175.5C627.0 174.2 629.7 170.4 632.0 168.0C634.3 165.6 636.8 163.3 640.0 161.0C643.2 158.7 646.8 156.2 651.0 154.0C655.2 151.8 659.7 149.4 665.0 147.5C670.3 145.6 676.8 143.9 683.0 142.5C689.2 141.1 693.0 140.2 702.5 139.3C712.0 138.4 727.5 137.3 740.0 137.0C752.5 136.7 768.3 137.1 777.5 137.5C786.7 137.9 790.0 139.0 795.0 139.5C800.0 140.0 803.0 140.4 807.5 140.5C812.0 140.6 816.6 140.2 822.0 139.8C827.4 139.4 831.6 138.7 840.0 138.0C848.4 137.3 860.8 136.2 872.5 135.5C884.2 134.8 898.8 134.2 910.0 133.5C921.2 132.8 930.8 132.0 940.0 131.5C949.2 131.0 958.3 130.2 965.0 130.5C971.7 130.8 975.0 131.8 980.0 133.0C985.0 134.2 990.3 136.0 995.0 137.5C999.7 139.0 1003.8 140.4 1008.0 142.2C1012.2 144.0 1016.2 146.1 1020.0 148.3C1023.8 150.5 1027.6 152.9 1031.0 155.5C1034.4 158.1 1037.8 161.1 1040.5 164.0C1043.2 166.9 1045.2 169.8 1047.0 172.8C1048.8 175.8 1050.0 178.6 1051.2 182.0C1052.4 185.4 1053.5 189.7 1054.2 193.5C1054.9 197.3 1055.3 203.1 1055.5 205.0" fill="none" stroke="#5f5f5f" stroke-width="4.0" stroke-linecap="round" stroke-linejoin="round" />
<path fill="#5f5f5f" d="M624.1 175.0L623.9 175.7L623.6 176.6L623.3 177.8L622.9 179.1L622.5 180.4L622.1 181.9L621.7 183.4L621.3 184.8L620.9 186.2L620.6 187.5L620.3 188.8L620.0 190.0L619.8 191.2L619.5 192.3L619.3 193.5L619.1 194.6L618.9 195.8L618.6 197.0L618.4 198.2L618.1 199.5L617.7 200.9L617.4 202.3L617.0 203.8L616.6 205.3L616.2 206.8L615.7 208.3L615.3 209.9L614.9 211.4L614.5 213.0L614.1 214.5L613.8 216.0L613.4 217.5L613.0 218.9L612.7 220.3L612.4 221.7L612.0 223.2L611.7 224.7L611.3 226.3L611.0 227.9L610.7 229.6L610.3 231.4L610.0 233.2L609.6 235.1L609.3 237.1L608.9 239.1L608.5 241.1L608.2 243.2L607.9 245.3L607.6 247.5L607.3 249.8L607.0 252.1L606.7 254.5L606.5 256.9L606.2 259.5L606.0 262.0L605.7 264.6L605.5 267.2L605.3 269.8L605.1 272.4L605.0 274.9L604.8 277.4L604.7 279.9L604.5 282.4L604.4 284.9L604.3 287.4L604.2 289.9L604.1 292.4L604.1 295.0L604.0 297.5L604.0 300.0L603.9 302.5L603.9 305.0L603.9 307.6L603.9 310.2L603.9 312.7L603.9 315.3L603.9 317.8L604.0 320.3L604.1 322.7L604.1 325.0L604.2 327.4L604.3 329.8L604.5 332.3L604.7 334.7L604.8 337.1L605.0 339.3L605.1 341.4L605.3 343.2L605.4 344.8L605.5 346.0L606.5 346.0L606.5 344.7L606.4 343.2L606.3 341.3L606.2 339.3L606.2 337.0L606.1 334.7L606.0 332.2L605.9 329.8L605.9 327.3L605.9 325.0L605.9 322.7L605.9 320.3L605.9 317.8L606.0 315.3L606.0 312.8L606.1 310.2L606.2 307.6L606.2 305.1L606.3 302.5L606.4 300.0L606.6 297.5L606.7 295.0L606.8 292.6L606.9 290.1L607.1 287.6L607.3 285.1L607.4 282.6L607.6 280.1L607.8 277.6L608.0 275.1L608.3 272.6L608.5 270.1L608.7 267.5L609.0 264.9L609.3 262.3L609.5 259.8L609.8 257.3L610.1 254.9L610.4 252.5L610.7 250.2L611.1 248.0L611.4 245.9L611.7 243.8L612.1 241.7L612.5 239.7L612.9 237.7L613.2 235.8L613.6 234.0L614.0 232.1L614.3 230.4L614.7 228.7L615.0 227.1L615.4 225.5L615.7 224.1L616.1 222.6L616.4 221.2L616.8 219.8L617.1 218.4L617.5 216.9L617.9 215.5L618.3 214.0L618.7 212.5L619.1 210.9L619.5 209.4L620.0 207.8L620.4 206.3L620.8 204.8L621.2 203.3L621.6 201.9L621.9 200.5L622.2 199.1L622.5 197.8L622.8 196.6L623.0 195.4L623.2 194.2L623.5 193.1L623.7 191.9L623.9 190.8L624.2 189.6L624.4 188.5L624.8 187.2L625.1 185.9L625.5 184.4L625.9 183.0L626.3 181.6L626.7 180.2L627.1 178.9L627.4 177.8L627.7 176.8L627.9 176.0Z"/>
<path fill="#5f5f5f" d="M1053.0 204.9L1052.9 205.6L1052.9 206.6L1052.8 207.8L1052.7 209.2L1052.6 210.6L1052.5 212.1L1052.4 213.6L1052.3 215.1L1052.2 216.5L1052.1 217.8L1052.0 219.0L1051.9 219.9L1051.8 220.8L1051.7 221.7L1051.6 222.6L1051.5 223.5L1051.4 224.7L1051.2 226.0L1051.0 227.7L1050.7 229.7L1050.4 232.2L1050.0 235.2L1049.5 238.5L1049.0 242.0L1048.5 245.7L1048.0 249.4L1047.5 253.0L1047.1 256.4L1046.6 259.5L1046.2 262.3L1045.9 264.6L1045.5 266.7L1045.2 268.6L1044.9 270.3L1044.5 272.0L1044.2 273.5L1044.0 275.0L1043.7 276.5L1043.4 278.1L1043.1 279.8L1042.8 281.7L1042.5 283.6L1042.2 285.7L1041.9 287.7L1041.6 289.7L1041.3 291.7L1041.1 293.4L1040.8 295.0L1040.7 296.4L1040.5 297.4L1041.5 297.6L1041.7 296.5L1042.0 295.2L1042.3 293.6L1042.6 291.9L1043.0 290.0L1043.4 288.0L1043.7 285.9L1044.1 283.9L1044.5 282.0L1044.9 280.2L1045.3 278.5L1045.6 276.9L1046.0 275.4L1046.3 273.9L1046.7 272.4L1047.1 270.8L1047.5 269.1L1047.9 267.2L1048.3 265.1L1048.8 262.7L1049.3 260.0L1049.9 256.9L1050.5 253.4L1051.1 249.8L1051.7 246.1L1052.3 242.5L1052.9 239.0L1053.4 235.7L1053.9 232.7L1054.3 230.3L1054.6 228.2L1054.9 226.6L1055.1 225.2L1055.2 224.0L1055.4 223.0L1055.5 222.1L1055.6 221.2L1055.7 220.3L1055.8 219.3L1055.9 218.2L1056.1 216.9L1056.2 215.4L1056.3 213.9L1056.5 212.4L1056.6 210.9L1056.7 209.5L1056.8 208.1L1056.9 206.9L1056.9 205.9L1057.0 205.1Z"/>
<path fill="#5f5f5f" d="M606.0 347.5L608.0 347.5L610.6 347.5L613.7 347.5L617.1 347.4L620.8 347.4L624.7 347.4L628.7 347.4L632.6 347.4L636.4 347.4L640.0 347.5L643.4 347.5L646.9 347.5L650.4 347.6L653.8 347.7L657.3 347.7L660.8 347.8L664.3 347.9L667.8 348.0L671.4 348.2L675.0 348.3L678.6 348.5L682.2 348.6L685.9 348.8L689.6 349.0L693.3 349.2L697.0 349.5L700.7 349.7L704.4 350.0L708.2 350.2L711.9 350.5L715.9 350.8L720.1 351.1L724.4 351.5L728.9 351.8L733.2 352.2L737.4 352.6L741.3 352.9L744.7 353.2L747.6 353.5L749.9 353.6L750.1 351.4L747.8 351.2L744.9 351.0L741.5 350.7L737.6 350.4L733.4 350.1L729.0 349.7L724.6 349.4L720.2 349.1L716.0 348.8L712.1 348.5L708.3 348.3L704.6 348.1L700.8 347.9L697.1 347.7L693.4 347.5L689.7 347.3L686.0 347.1L682.3 347.0L678.6 346.8L675.0 346.7L671.4 346.6L667.9 346.5L664.3 346.4L660.8 346.3L657.3 346.3L653.8 346.2L650.4 346.2L646.9 346.2L643.5 346.2L640.0 346.1L636.4 346.1L632.6 346.2L628.7 346.2L624.7 346.2L620.8 346.3L617.1 346.3L613.7 346.4L610.6 346.4L608.0 346.5L606.0 346.5Z"/>
<path fill="#5f5f5f" d="M749.9 353.6L752.2 353.8L755.1 354.1L758.5 354.4L762.4 354.7L766.6 355.0L771.0 355.4L775.4 355.7L779.8 356.1L784.0 356.4L787.9 356.8L791.7 357.1L795.5 357.4L799.4 357.7L803.3 358.0L807.1 358.3L810.9 358.6L814.6 358.9L818.2 359.2L821.6 359.5L824.9 359.8L828.1 360.0L831.0 360.2L833.8 360.4L836.5 360.5L839.2 360.7L841.7 360.9L844.3 361.0L846.8 361.2L849.4 361.4L851.9 361.6L854.7 361.9L857.5 362.2L860.5 362.5L863.5 362.8L866.4 363.2L869.1 363.5L871.7 363.8L874.0 364.1L875.9 364.3L877.4 364.5L877.6 363.5L876.1 363.3L874.1 363.1L871.8 362.8L869.3 362.4L866.5 362.1L863.6 361.7L860.6 361.3L857.7 361.0L854.8 360.7L852.1 360.4L849.5 360.1L846.9 359.9L844.4 359.7L841.8 359.5L839.3 359.3L836.6 359.1L833.9 358.9L831.1 358.7L828.2 358.5L825.1 358.2L821.8 357.9L818.3 357.6L814.7 357.3L811.0 357.0L807.3 356.6L803.4 356.3L799.6 355.9L795.7 355.6L791.9 355.2L788.1 354.8L784.2 354.5L779.9 354.1L775.6 353.7L771.1 353.3L766.8 352.9L762.6 352.5L758.7 352.1L755.3 351.8L752.4 351.6L750.1 351.4Z"/>
<path d="M1055.0 205.5C1056.7 205.7 1061.7 206.1 1065.0 206.5C1068.3 206.9 1071.7 207.5 1075.0 208.0C1078.3 208.5 1082.1 208.9 1085.0 209.5C1087.9 210.1 1090.3 210.7 1092.5 211.3C1094.7 211.9 1096.6 212.3 1098.0 213.0C1099.4 213.7 1100.5 215.1 1101.0 215.5" fill="none" stroke="#5f5f5f" stroke-width="4.0" stroke-linecap="round" stroke-linejoin="round" />
<line x1="1101.3" y1="215.0" x2="1101.3" y2="300.0" stroke="#5f5f5f" stroke-width="3.9" stroke-linecap="round"/>
<path d="M1056.0 215.0C1057.2 215.1 1060.7 215.6 1063.0 215.8C1065.3 216.1 1066.3 216.3 1070.0 216.5C1073.7 216.7 1080.0 217.0 1085.0 216.8C1090.0 216.6 1097.5 215.7 1100.0 215.5" fill="none" stroke="#585858" stroke-width="0.8" stroke-linecap="round" stroke-linejoin="round" />
<line x1="1070.0" y1="216.5" x2="1067.5" y2="300.0" stroke="#585858" stroke-width="0.8" stroke-linecap="butt"/>
<path d="M877.5 364.0C880.4 362.2 888.8 356.7 895.0 353.0C901.2 349.3 907.9 345.4 915.0 342.0C922.1 338.6 933.8 334.1 937.5 332.5" fill="none" stroke="#585858" stroke-width="0.9" stroke-linecap="round" stroke-linejoin="round" />
<path fill="#5f5f5f" d="M937.6 332.9L939.4 332.6L941.7 332.1L944.5 331.5L947.6 330.8L950.9 330.1L954.4 329.4L958.0 328.6L961.5 327.9L965.0 327.2L968.2 326.5L971.5 325.9L975.1 325.2L978.8 324.6L982.5 323.9L986.2 323.2L989.7 322.6L993.0 322.0L995.9 321.5L998.4 321.0L1000.3 320.7L999.7 317.3L997.8 317.8L995.3 318.3L992.4 318.9L989.1 319.6L985.6 320.4L982.0 321.2L978.2 322.1L974.6 322.9L971.1 323.7L967.8 324.5L964.5 325.2L961.1 326.1L957.6 326.9L954.1 327.8L950.6 328.7L947.3 329.5L944.2 330.3L941.5 331.0L939.2 331.6L937.4 332.1Z"/>
<path d="M1000.0 319.0C1005.0 318.0 1020.0 314.9 1030.0 313.0C1040.0 311.1 1050.8 309.0 1060.0 307.5C1069.2 306.0 1076.7 304.9 1085.0 304.0C1093.3 303.1 1102.5 302.4 1110.0 302.0C1117.5 301.6 1123.8 301.3 1130.0 301.5C1136.2 301.7 1143.0 302.2 1147.5 303.0C1152.0 303.8 1154.5 304.7 1157.0 306.0C1159.5 307.3 1161.6 310.2 1162.5 311.0" fill="none" stroke="#5f5f5f" stroke-width="3.4" stroke-linecap="round" stroke-linejoin="round" />
<path d="M1162.5 311.0C1162.8 313.3 1163.8 319.3 1164.0 325.0C1164.2 330.7 1164.2 335.8 1164.0 345.0C1163.8 354.2 1163.5 367.5 1163.0 380.0C1162.5 392.5 1161.5 410.0 1161.0 420.0C1160.5 430.0 1160.3 432.5 1160.0 440.0C1159.7 447.5 1159.4 457.5 1159.0 465.0C1158.6 472.5 1158.0 478.8 1157.5 485.0C1157.0 491.2 1156.5 497.7 1156.0 502.5C1155.5 507.3 1155.1 510.7 1154.5 514.0C1153.9 517.3 1153.6 519.8 1152.5 522.5C1151.4 525.2 1149.7 527.8 1148.0 530.0C1146.3 532.2 1145.0 533.8 1142.5 536.0C1140.0 538.2 1136.3 541.2 1133.0 543.5C1129.7 545.8 1127.3 547.4 1122.5 550.0C1117.7 552.6 1110.2 556.1 1104.0 559.0C1097.8 561.9 1091.3 564.7 1085.0 567.5C1078.7 570.3 1072.2 573.2 1066.0 576.0C1059.8 578.8 1053.7 581.6 1047.5 584.0C1041.3 586.4 1035.2 588.5 1029.0 590.5C1022.8 592.5 1016.3 594.3 1010.0 596.0C1003.7 597.7 997.2 599.2 991.0 600.5C984.8 601.8 978.5 603.2 972.5 604.0C966.5 604.8 961.2 605.2 955.0 605.5C948.8 605.8 941.7 605.9 935.0 606.0C928.3 606.1 921.2 606.2 915.0 606.0C908.8 605.8 903.0 605.5 897.5 605.0C892.0 604.5 886.2 603.8 882.0 603.0C877.8 602.2 874.1 601.0 872.0 600.0C869.9 599.0 869.9 597.5 869.5 597.0" fill="none" stroke="#5f5f5f" stroke-width="4.0" stroke-linecap="round" stroke-linejoin="round" />
<path fill="#5f5f5f" d="M877.7 364.5L878.6 364.1L879.8 363.6L881.2 363.0L882.7 362.4L884.4 361.7L886.1 361.0L887.9 360.3L889.7 359.7L891.5 359.0L893.2 358.5L894.8 358.0L896.3 357.6L897.9 357.1L899.4 356.7L901.0 356.3L902.7 355.9L904.4 355.6L906.2 355.2L908.1 354.9L910.1 354.5L912.2 354.2L914.6 353.9L917.0 353.7L919.5 353.4L922.1 353.1L924.7 352.9L927.3 352.7L929.9 352.5L932.5 352.3L935.0 352.1L937.5 351.9L939.8 351.7L942.1 351.6L944.4 351.4L946.7 351.3L949.1 351.2L951.6 351.0L954.2 350.9L957.0 350.8L960.0 350.6L963.3 350.4L966.8 350.2L970.5 350.1L974.3 349.9L978.3 349.7L982.3 349.5L986.3 349.3L990.3 349.1L994.2 348.9L998.0 348.7L1001.9 348.4L1006.1 348.2L1010.4 348.0L1014.7 347.8L1018.9 347.6L1022.9 347.3L1026.7 347.1L1030.0 347.0L1032.8 346.8L1035.0 346.7L1035.0 345.3L1032.8 345.4L1029.9 345.6L1026.6 345.8L1022.9 346.0L1018.8 346.2L1014.6 346.4L1010.3 346.7L1006.0 346.9L1001.9 347.1L998.0 347.3L994.1 347.6L990.2 347.8L986.2 348.0L982.2 348.2L978.2 348.4L974.3 348.6L970.4 348.8L966.8 349.0L963.2 349.2L960.0 349.4L956.9 349.6L954.1 349.7L951.5 349.9L949.0 350.0L946.7 350.1L944.3 350.3L942.1 350.4L939.8 350.6L937.4 350.7L935.0 350.9L932.4 351.1L929.8 351.3L927.2 351.6L924.6 351.8L921.9 352.0L919.4 352.3L916.9 352.6L914.4 352.8L912.1 353.1L909.9 353.5L907.9 353.8L906.0 354.1L904.2 354.5L902.4 354.9L900.8 355.3L899.2 355.7L897.6 356.1L896.0 356.5L894.5 357.0L892.8 357.5L891.2 358.1L889.4 358.7L887.6 359.4L885.8 360.1L884.0 360.8L882.3 361.5L880.8 362.1L879.4 362.7L878.2 363.2L877.3 363.5Z"/>
<path fill="#5f5f5f" d="M1035.1 346.7L1036.6 346.6L1038.5 346.4L1040.7 346.2L1043.3 346.0L1046.0 345.8L1048.9 345.6L1051.8 345.3L1054.7 345.1L1057.5 344.8L1060.1 344.5L1062.7 344.2L1065.5 343.9L1068.4 343.5L1071.4 343.2L1074.2 342.8L1077.0 342.4L1079.5 342.1L1081.8 341.8L1083.7 341.5L1085.2 341.3L1084.8 338.7L1083.3 338.9L1081.4 339.2L1079.2 339.6L1076.6 340.0L1073.9 340.4L1071.0 340.8L1068.1 341.3L1065.3 341.7L1062.5 342.1L1059.9 342.5L1057.3 342.8L1054.5 343.2L1051.6 343.5L1048.7 343.8L1045.9 344.1L1043.1 344.4L1040.6 344.7L1038.3 344.9L1036.4 345.1L1034.9 345.3Z"/>
<path d="M1085.0 340.0C1088.2 339.4 1097.8 337.8 1104.0 336.5C1110.2 335.2 1117.2 333.8 1122.5 332.5C1127.8 331.2 1131.8 329.9 1136.0 328.5C1140.2 327.1 1144.3 325.4 1147.5 324.0C1150.7 322.6 1152.6 321.6 1155.0 320.0C1157.4 318.4 1160.8 315.4 1162.0 314.5" fill="none" stroke="#5f5f5f" stroke-width="2.7" stroke-linecap="round" stroke-linejoin="round" />
<path fill="#5f5f5f" d="M877.2 363.7L876.9 363.9L876.5 364.3L875.9 364.7L875.4 365.1L874.8 365.6L874.1 366.1L873.5 366.7L872.9 367.3L872.3 367.9L871.8 368.6L871.4 369.2L871.0 369.8L870.6 370.5L870.3 371.2L870.0 371.9L869.7 372.6L869.4 373.4L869.1 374.1L868.9 374.9L868.6 375.8L868.4 376.7L868.2 377.7L868.1 378.7L867.9 379.8L867.8 380.8L867.7 381.9L867.6 382.8L867.5 383.7L867.4 384.4L867.4 384.9L870.6 385.1L870.7 384.6L870.7 383.8L870.7 383.0L870.7 382.0L870.7 381.0L870.7 380.0L870.7 379.0L870.8 378.0L870.9 377.1L871.0 376.2L871.1 375.5L871.3 374.7L871.4 374.0L871.6 373.3L871.8 372.6L872.0 371.9L872.3 371.3L872.6 370.6L872.9 370.0L873.2 369.4L873.5 368.9L874.0 368.3L874.5 367.7L875.0 367.1L875.6 366.5L876.1 366.0L876.6 365.5L877.1 365.0L877.5 364.6L877.8 364.3Z"/>
<path d="M869.0 385.0C868.9 390.8 868.7 404.2 868.6 420.0C868.5 435.8 868.5 459.2 868.5 480.0C868.5 500.8 868.3 528.3 868.3 545.0C868.3 561.7 868.3 571.2 868.5 580.0C868.7 588.8 869.3 595.0 869.5 598.0" fill="none" stroke="#5f5f5f" stroke-width="3.3" stroke-linecap="round" stroke-linejoin="round" />
<path d="M104.0 480.5L110.8 547.0L112.5 550.0L120.0 549.5L121.3 546.0L125.0 484.0" fill="none" stroke="#5f5f5f" stroke-width="2.5" stroke-linejoin="round"/>
<path d="M134.0 485.0L141.0 537.0L142.5 540.0L149.5 539.5L151.0 536.5L152.5 489.0" fill="none" stroke="#5f5f5f" stroke-width="2.5" stroke-linejoin="round"/>
<path d="M836.0 597.0L844.0 688.5L846.0 691.5L856.0 690.5L858.0 687.0L866.0 602.5" fill="none" stroke="#5f5f5f" stroke-width="2.5" stroke-linejoin="round"/>
<path d="M872.5 604.0L880.0 673.5L882.0 676.5L890.5 675.5L892.5 672.0L896.0 607.5" fill="none" stroke="#5f5f5f" stroke-width="2.5" stroke-linejoin="round"/>
<path d="M1035.5 587.5V599Q1035.5 602.5 1039 602.5H1045.5Q1049 602.5 1049 599V584" fill="none" stroke="#5f5f5f" stroke-width="2.2"/>
<line x1="68.3" y1="96.6" x2="306.5" y2="77.2" stroke="#e01c25" stroke-width="3.8" stroke-linecap="butt"/>
<line x1="305.5" y1="77.2" x2="1162.0" y2="86.2" stroke="#e01c25" stroke-width="3.8" stroke-linecap="butt"/>
<line x1="432.5" y1="140.0" x2="420.0" y2="327.0" stroke="#e01c25" stroke-width="3.8" stroke-linecap="butt"/>
<line x1="609.0" y1="248.0" x2="1046.0" y2="264.0" stroke="#e01c25" stroke-width="3.8" stroke-linecap="butt"/>
<path fill="#e01c25" d="M107.8 357.8L116.9 358.7L128.5 359.8L142.3 361.1L157.7 362.6L174.3 364.2L191.7 365.9L209.4 367.6L227.0 369.3L243.9 370.9L259.8 372.4L275.7 373.9L292.6 375.6L310.2 377.3L327.9 379.0L345.3 380.6L361.9 382.2L377.4 383.7L391.1 385.1L402.7 386.2L411.8 387.0L412.2 382.6L403.2 381.7L391.5 380.6L377.8 379.3L362.3 377.9L345.7 376.4L328.3 374.7L310.6 373.1L293.0 371.4L276.1 369.9L260.2 368.4L244.3 366.9L227.4 365.3L209.8 363.7L192.1 362.0L174.7 360.4L158.0 358.9L142.6 357.4L128.8 356.1L117.2 355.1L108.2 354.2Z"/>
<path fill="#e01c25" d="M410.8 386.9L424.4 388.2L442.0 389.9L462.7 391.8L486.0 394.0L511.1 396.4L537.3 398.9L564.0 401.4L590.4 403.9L615.9 406.3L639.8 408.5L663.7 410.8L689.1 413.2L715.4 415.6L741.9 418.1L768.0 420.6L792.9 423.0L816.0 425.1L836.6 427.1L854.1 428.7L867.6 430.0L868.0 426.0L854.4 424.7L837.0 423.1L816.4 421.1L793.3 418.9L768.4 416.5L742.3 414.0L715.8 411.5L689.5 409.0L664.1 406.6L640.2 404.3L616.3 402.0L590.8 399.6L564.4 397.1L537.7 394.5L511.5 392.0L486.4 389.6L463.1 387.4L442.4 385.4L424.8 383.8L411.2 382.5Z"/>
<line x1="419.5" y1="385.0" x2="610.0" y2="348.0" stroke="#e01c25" stroke-width="4.3" stroke-linecap="butt"/>
<line x1="266.0" y1="371.0" x2="266.0" y2="578.0" stroke="#e01c25" stroke-width="3.8" stroke-linecap="butt"/>
<line x1="937.5" y1="334.5" x2="1046.0" y2="345.0" stroke="#e01c25" stroke-width="3.8" stroke-linecap="butt"/>
<line x1="937.5" y1="354.0" x2="1162.5" y2="309.5" stroke="#e01c25" stroke-width="3.8" stroke-linecap="butt"/>
<line x1="937.3" y1="353.0" x2="936.8" y2="686.0" stroke="#e01c25" stroke-width="3.8" stroke-linecap="butt"/>
<line x1="1045.5" y1="345.0" x2="1045.5" y2="584.0" stroke="#e01c25" stroke-width="3.8" stroke-linecap="butt"/>
<line x1="1179.0" y1="213.0" x2="1178.0" y2="631.0" stroke="#e01c25" stroke-width="3.8" stroke-linecap="butt"/>
<line x1="1228.0" y1="130.0" x2="1227.5" y2="642.0" stroke="#e01c25" stroke-width="3.8" stroke-linecap="butt"/>
<line x1="802.0" y1="594.0" x2="802.0" y2="679.5" stroke="#e01c25" stroke-width="3.8" stroke-linecap="butt"/>
<g transform="translate(127.3 86.0) rotate(-3.7)" fill="#0a0a0a"><text x="-0.7" y="0" font-size="35" font-weight="700" stroke="#0a0a0a" stroke-width="0.7" textLength="54.0" lengthAdjust="spacingAndGlyphs">102</text><text x="54.5" y="0" font-size="34" stroke="#fff" stroke-width="0.5" textLength="54.0" lengthAdjust="spacingAndGlyphs">cm</text></g>
<g transform="translate(632.5 71.0) rotate(0.5)" fill="#0a0a0a"><text x="-0.7" y="0" font-size="35" font-weight="700" stroke="#0a0a0a" stroke-width="0.7" textLength="56.5" lengthAdjust="spacingAndGlyphs">244</text><text x="57.0" y="0" font-size="34" stroke="#fff" stroke-width="0.5" textLength="54.0" lengthAdjust="spacingAndGlyphs">cm</text></g>
<g transform="translate(416.0 275.5) rotate(-86.0)" fill="#0a0a0a"><text x="-0.7" y="0" font-size="35" font-weight="700" stroke="#0a0a0a" stroke-width="0.7" textLength="41.5" lengthAdjust="spacingAndGlyphs">47</text><text x="42.0" y="0" font-size="34" stroke="#fff" stroke-width="0.5" textLength="50.0" lengthAdjust="spacingAndGlyphs">cm</text></g>
<g transform="translate(751.0 247.5) rotate(2.0)" fill="#0a0a0a"><text x="-0.7" y="0" font-size="35" font-weight="700" stroke="#0a0a0a" stroke-width="0.7" textLength="54.5" lengthAdjust="spacingAndGlyphs">100</text><text x="55.0" y="0" font-size="34" stroke="#fff" stroke-width="0.5" textLength="54.0" lengthAdjust="spacingAndGlyphs">cm</text></g>
<g transform="translate(237.0 361.0) rotate(5.2)" fill="#0a0a0a"><text x="-0.7" y="0" font-size="35" font-weight="700" stroke="#0a0a0a" stroke-width="0.7" textLength="56.5" lengthAdjust="spacingAndGlyphs">200</text><text x="56.0" y="0" font-size="34" stroke="#fff" stroke-width="0.5" textLength="54.0" lengthAdjust="spacingAndGlyphs">cm</text></g>
<g transform="translate(429.3 371.6) rotate(-10.0)" fill="#0a0a0a"><text x="-0.7" y="0" font-size="35" font-weight="700" stroke="#0a0a0a" stroke-width="0.7" textLength="35.0" lengthAdjust="spacingAndGlyphs">57</text><text x="36.0" y="0" font-size="34" stroke="#fff" stroke-width="0.5" textLength="55.0" lengthAdjust="spacingAndGlyphs">cm</text></g>
<g transform="translate(255.0 546.0) rotate(-90.0)" fill="#0a0a0a"><text x="-0.7" y="0" font-size="35" font-weight="700" stroke="#0a0a0a" stroke-width="0.7" textLength="39.5" lengthAdjust="spacingAndGlyphs">45</text><text x="40.0" y="0" font-size="34" stroke="#fff" stroke-width="0.5" textLength="51.0" lengthAdjust="spacingAndGlyphs">cm</text></g>
<g transform="translate(910.0 326.0) rotate(5.5)" fill="#0a0a0a"><text x="-0.7" y="0" font-size="35" font-weight="700" stroke="#0a0a0a" stroke-width="0.7" textLength="36.5" lengthAdjust="spacingAndGlyphs">22</text><text x="37.0" y="0" font-size="34" stroke="#fff" stroke-width="0.5" textLength="58.0" lengthAdjust="spacingAndGlyphs">cm</text></g>
<g transform="translate(1031.5 327.0) rotate(-11.0)" fill="#0a0a0a"><text x="-0.7" y="0" font-size="35" font-weight="700" stroke="#0a0a0a" stroke-width="0.7" textLength="39.5" lengthAdjust="spacingAndGlyphs">97</text><text x="40.0" y="0" font-size="34" stroke="#fff" stroke-width="0.5" textLength="56.0" lengthAdjust="spacingAndGlyphs">cm</text></g>
<g transform="translate(943.0 446.0) rotate(90.0)" fill="#0a0a0a"><text x="-0.7" y="0" font-size="35" font-weight="700" stroke="#0a0a0a" stroke-width="0.7" textLength="37.5" lengthAdjust="spacingAndGlyphs">61</text><text x="38.0" y="0" font-size="34" stroke="#fff" stroke-width="0.5" textLength="54.0" lengthAdjust="spacingAndGlyphs">cm</text></g>
<g transform="translate(1050.0 396.0) rotate(90.0)" fill="#0a0a0a"><text x="-0.7" y="0" font-size="35" font-weight="700" stroke="#0a0a0a" stroke-width="0.7" textLength="39.5" lengthAdjust="spacingAndGlyphs">45</text><text x="40.0" y="0" font-size="34" stroke="#fff" stroke-width="0.5" textLength="52.0" lengthAdjust="spacingAndGlyphs">cm</text></g>
<g transform="translate(1187.5 312.0) rotate(90.0)" fill="#0a0a0a"><text x="-0.7" y="0" font-size="35" font-weight="700" stroke="#0a0a0a" stroke-width="0.7" textLength="36.5" lengthAdjust="spacingAndGlyphs">77</text><text x="37.0" y="0" font-size="34" stroke="#fff" stroke-width="0.5" textLength="54.5" lengthAdjust="spacingAndGlyphs">cm</text></g>
<g transform="translate(1236.5 312.0) rotate(90.0)" fill="#0a0a0a"><text x="-0.7" y="0" font-size="35" font-weight="700" stroke="#0a0a0a" stroke-width="0.7" textLength="38.5" lengthAdjust="spacingAndGlyphs">92</text><text x="39.0" y="0" font-size="34" stroke="#fff" stroke-width="0.5" textLength="52.0" lengthAdjust="spacingAndGlyphs">cm</text></g>
<g transform="translate(796.0 679.5) rotate(-90.0)" fill="#0a0a0a"><text x="-0.7" y="0" font-size="35" font-weight="700" stroke="#0a0a0a" stroke-width="0.7" textLength="36.5" lengthAdjust="spacingAndGlyphs">16</text><text x="37.0" y="0" font-size="34" stroke="#fff" stroke-width="0.5" textLength="54.0" lengthAdjust="spacingAndGlyphs">cm</text></g>
<!-- bed icon -->
<path d="M132.5 671H290Q306 671 306 687V790H107.5V707.5C120 735 150 752 187.5 752.5C155 745 134 715 132.5 671Z" fill="#666"/>
<path d="M153.0 680.1L153.7 682.0L155.7 682.1L154.1 683.4L154.7 685.3L153.0 684.2L151.3 685.3L151.9 683.4L150.3 682.1L152.3 682.0ZM178.0 674.4L178.6 676.1L180.5 676.2L179.0 677.3L179.5 679.1L178.0 678.1L176.5 679.1L177.0 677.3L175.5 676.2L177.4 676.1ZM186.0 686.1L186.7 688.0L188.7 688.1L187.1 689.4L187.7 691.3L186.0 690.2L184.3 691.3L184.9 689.4L183.3 688.1L185.3 688.0ZM169.0 691.8L170.0 694.6L173.0 694.7L170.7 696.5L171.4 699.4L169.0 697.7L166.6 699.4L167.3 696.5L165.0 694.7L168.0 694.6ZM189.0 696.4L189.6 698.1L191.5 698.2L190.0 699.3L190.5 701.1L189.0 700.1L187.5 701.1L188.0 699.3L186.5 698.2L188.4 698.1ZM168.0 708.4L168.6 710.1L170.5 710.2L169.0 711.3L169.5 713.1L168.0 712.1L166.5 713.1L167.0 711.3L165.5 710.2L167.4 710.1ZM193.0 708.4L193.6 710.1L195.5 710.2L194.0 711.3L194.5 713.1L193.0 712.1L191.5 713.1L192.0 711.3L190.5 710.2L192.4 710.1ZM199.0 708.4L199.6 710.1L201.5 710.2L200.0 711.3L200.5 713.1L199.0 712.1L197.5 713.1L198.0 711.3L196.5 710.2L198.4 710.1ZM157.0 717.4L157.6 719.1L159.5 719.2L158.0 720.3L158.5 722.1L157.0 721.1L155.5 722.1L156.0 720.3L154.5 719.2L156.4 719.1ZM180.0 720.4L180.6 722.1L182.5 722.2L181.0 723.3L181.5 725.1L180.0 724.1L178.5 725.1L179.0 723.3L177.5 722.2L179.4 722.1ZM163.0 725.4L163.6 727.1L165.5 727.2L164.0 728.3L164.5 730.1L163.0 729.1L161.5 730.1L162.0 728.3L160.5 727.2L162.4 727.1ZM200.0 726.8L201.0 729.6L204.0 729.7L201.7 731.5L202.4 734.4L200.0 732.7L197.6 734.4L198.3 731.5L196.0 729.7L199.0 729.6ZM215.0 716.4L215.6 718.1L217.5 718.2L216.0 719.3L216.5 721.1L215.0 720.1L213.5 721.1L214.0 719.3L212.5 718.2L214.4 718.1ZM232.0 715.4L232.6 717.1L234.5 717.2L233.0 718.3L233.5 720.1L232.0 719.1L230.5 720.1L231.0 718.3L229.5 717.2L231.4 717.1ZM219.0 731.4L219.6 733.1L221.5 733.2L220.0 734.3L220.5 736.1L219.0 735.1L217.5 736.1L218.0 734.3L216.5 733.2L218.4 733.1ZM210.0 692.4L210.6 694.1L212.5 694.2L211.0 695.3L211.5 697.1L210.0 696.1L208.5 697.1L209.0 695.3L207.5 694.2L209.4 694.1ZM225.0 679.8L226.0 682.6L229.0 682.7L226.7 684.5L227.4 687.4L225.0 685.7L222.6 687.4L223.3 684.5L221.0 682.7L224.0 682.6ZM245.0 685.4L245.6 687.1L247.5 687.2L246.0 688.3L246.5 690.1L245.0 689.1L243.5 690.1L244.0 688.3L242.5 687.2L244.4 687.1ZM224.0 699.4L224.6 701.1L226.5 701.2L225.0 702.3L225.5 704.1L224.0 703.1L222.5 704.1L223.0 702.3L221.5 701.2L223.4 701.1ZM242.0 701.8L243.0 704.6L246.0 704.7L243.7 706.5L244.4 709.4L242.0 707.7L239.6 709.4L240.3 706.5L238.0 704.7L241.0 704.6ZM259.0 708.4L259.6 710.1L261.5 710.2L260.0 711.3L260.5 713.1L259.0 712.1L257.5 713.1L258.0 711.3L256.5 710.2L258.4 710.1ZM265.0 687.4L265.6 689.1L267.5 689.2L266.0 690.3L266.5 692.1L265.0 691.1L263.5 692.1L264.0 690.3L262.5 689.2L264.4 689.1ZM270.0 677.4L270.6 679.1L272.5 679.2L271.0 680.3L271.5 682.1L270.0 681.1L268.5 682.1L269.0 680.3L267.5 679.2L269.4 679.1ZM290.0 682.6L291.1 685.5L294.2 685.6L291.8 687.6L292.6 690.6L290.0 688.9L287.4 690.6L288.2 687.6L285.8 685.6L288.9 685.5ZM280.0 702.4L280.6 704.1L282.5 704.2L281.0 705.3L281.5 707.1L280.0 706.1L278.5 707.1L279.0 705.3L277.5 704.2L279.4 704.1ZM286.0 718.4L286.6 720.1L288.5 720.2L287.0 721.3L287.5 723.1L286.0 722.1L284.5 723.1L285.0 721.3L283.5 720.2L285.4 720.1ZM243.0 725.8L244.0 728.6L247.0 728.7L244.7 730.5L245.4 733.4L243.0 731.7L240.6 733.4L241.3 730.5L239.0 728.7L242.0 728.6ZM265.0 731.4L265.6 733.1L267.5 733.2L266.0 734.3L266.5 736.1L265.0 735.1L263.5 736.1L264.0 734.3L262.5 733.2L264.4 733.1ZM278.0 734.1L279.0 736.7L281.7 736.8L279.6 738.5L280.3 741.2L278.0 739.6L275.7 741.2L276.4 738.5L274.3 736.8L277.0 736.7ZM125.0 742.1L125.7 744.0L127.7 744.1L126.1 745.4L126.7 747.3L125.0 746.2L123.3 747.3L123.9 745.4L122.3 744.1L124.3 744.0ZM116.0 742.4L116.6 744.1L118.5 744.2L117.0 745.3L117.5 747.1L116.0 746.1L114.5 747.1L115.0 745.3L113.5 744.2L115.4 744.1ZM125.0 751.8L126.0 754.6L129.0 754.7L126.7 756.5L127.4 759.4L125.0 757.7L122.6 759.4L123.3 756.5L121.0 754.7L124.0 754.6ZM153.0 750.4L153.6 752.1L155.5 752.2L154.0 753.3L154.5 755.1L153.0 754.1L151.5 755.1L152.0 753.3L150.5 752.2L152.4 752.1ZM145.0 762.4L145.6 764.1L147.5 764.2L146.0 765.3L146.5 767.1L145.0 766.1L143.5 767.1L144.0 765.3L142.5 764.2L144.4 764.1ZM116.0 728.6L116.3 729.5L117.3 729.6L116.6 730.2L116.8 731.1L116.0 730.6L115.2 731.1L115.4 730.2L114.7 729.6L115.7 729.5ZM130.0 772.0m-0.9 0a0.9 0.9 0 1 0 1.8 0a0.9 0.9 0 1 0 -1.8 0ZM137.0 751.0m-0.9 0a0.9 0.9 0 1 0 1.8 0a0.9 0.9 0 1 0 -1.8 0ZM215.0 675.0m-0.9 0a0.9 0.9 0 1 0 1.8 0a0.9 0.9 0 1 0 -1.8 0ZM200.0 683.0m-0.9 0a0.9 0.9 0 1 0 1.8 0a0.9 0.9 0 1 0 -1.8 0ZM251.0 680.0m-0.9 0a0.9 0.9 0 1 0 1.8 0a0.9 0.9 0 1 0 -1.8 0ZM277.0 685.0m-0.9 0a0.9 0.9 0 1 0 1.8 0a0.9 0.9 0 1 0 -1.8 0ZM294.0 702.0m-0.9 0a0.9 0.9 0 1 0 1.8 0a0.9 0.9 0 1 0 -1.8 0ZM264.0 718.0m-0.9 0a0.9 0.9 0 1 0 1.8 0a0.9 0.9 0 1 0 -1.8 0ZM248.0 722.0m-0.9 0a0.9 0.9 0 1 0 1.8 0a0.9 0.9 0 1 0 -1.8 0ZM229.0 732.0m-0.9 0a0.9 0.9 0 1 0 1.8 0a0.9 0.9 0 1 0 -1.8 0ZM183.0 741.0m-0.9 0a0.9 0.9 0 1 0 1.8 0a0.9 0.9 0 1 0 -1.8 0ZM180.0 735.0m-0.9 0a0.9 0.9 0 1 0 1.8 0a0.9 0.9 0 1 0 -1.8 0ZM203.0 740.0m-0.9 0a0.9 0.9 0 1 0 1.8 0a0.9 0.9 0 1 0 -1.8 0ZM293.0 736.0m-0.9 0a0.9 0.9 0 1 0 1.8 0a0.9 0.9 0 1 0 -1.8 0ZM150.0 701.0m-0.9 0a0.9 0.9 0 1 0 1.8 0a0.9 0.9 0 1 0 -1.8 0ZM208.0 707.0m-0.9 0a0.9 0.9 0 1 0 1.8 0a0.9 0.9 0 1 0 -1.8 0ZM235.0 692.0m-0.9 0a0.9 0.9 0 1 0 1.8 0a0.9 0.9 0 1 0 -1.8 0ZM253.0 697.0m-0.9 0a0.9 0.9 0 1 0 1.8 0a0.9 0.9 0 1 0 -1.8 0ZM172.0 734.0m-0.9 0a0.9 0.9 0 1 0 1.8 0a0.9 0.9 0 1 0 -1.8 0ZM140.0 752.0m-0.9 0a0.9 0.9 0 1 0 1.8 0a0.9 0.9 0 1 0 -1.8 0ZM167.0 760.0m-0.9 0a0.9 0.9 0 1 0 1.8 0a0.9 0.9 0 1 0 -1.8 0Z" fill="#fff"/>
<path d="M86 798L182 768L336 774L336.5 796L221 847L87.5 818Z" fill="#f4f4f4" stroke="#fff" stroke-width="2"/>
<path d="M87.5 818.300L220.8 847.3L336.3 796" fill="none" stroke="#666" stroke-width="3.6"/>
<path d="M86.5 799L87.5 818" fill="none" stroke="#777" stroke-width="1.2"/><path d="M220.3 821.5Q216.800 834 220.8 846.5Q223.200 834 220.3 821.5Z" fill="#666"/>
<path d="M88 798.5L180 770L250 772L334 776L222 820.5Z" fill="#e8262a"/>
<path d="M86.5 799L222 821.5L336 775.5" fill="none" stroke="#fff" stroke-width="1.2"/>
<path d="M178.6 765.7C177.0 764.0 183.1 761.4 186.0 759.5C188.9 757.6 192.5 756.1 195.8 754.3C199.1 752.5 202.8 750.2 206.0 748.5C209.2 746.8 212.9 745.3 215.0 744.3C217.1 743.3 217.2 742.6 218.5 742.6C219.8 742.6 220.4 743.7 223.0 744.0C225.6 744.3 230.2 744.2 234.0 744.6C237.8 745.0 242.4 745.8 245.9 746.4C249.4 747.0 252.2 747.7 255.0 748.5C257.9 749.3 260.7 750.4 263.0 751.4C265.3 752.4 267.2 753.6 269.0 754.5C270.8 755.4 271.8 756.6 273.5 756.6C275.2 756.6 277.1 754.7 279.0 754.2C280.9 753.7 282.1 753.7 284.6 753.8C287.1 753.9 290.9 754.5 294.0 755.0C297.1 755.5 300.2 756.1 303.0 756.6C305.8 757.1 308.1 757.3 310.5 757.8C312.9 758.3 315.1 758.9 317.5 759.5C319.9 760.1 322.6 760.7 325.0 761.5C327.4 762.3 329.9 763.4 331.8 764.5C333.7 765.6 336.2 766.9 336.6 768.2C337.1 769.6 335.8 771.3 334.5 772.6C333.2 773.9 331.4 774.6 329.0 775.8C326.6 776.9 323.1 778.3 320.0 779.5C316.9 780.7 312.9 782.1 310.3 783.0C307.7 783.9 306.2 784.2 304.5 785.0C302.8 785.8 301.5 786.9 300.3 787.6C299.1 788.3 298.5 789.0 297.5 789.3C296.5 789.6 295.4 789.8 294.4 789.6C293.4 789.4 292.4 788.5 291.5 788.0C290.6 787.5 290.8 787.0 288.9 786.3C287.0 785.6 282.9 784.4 280.0 783.6C277.1 782.8 275.3 782.4 271.7 781.6C268.1 780.8 262.8 779.7 258.5 779.0C254.2 778.3 248.7 777.3 245.9 777.4C243.2 777.5 243.2 778.8 242.0 779.5C240.8 780.2 239.7 781.4 238.5 781.6C237.3 781.9 236.2 781.4 235.0 781.0C233.8 780.6 233.1 779.9 231.6 779.4C230.1 778.9 229.5 779.0 225.9 778.0C222.3 777.0 215.1 775.1 210.1 773.7C205.1 772.3 201.1 770.9 195.8 769.6C190.6 768.3 180.2 767.4 178.6 765.7Z" fill="#fff" stroke="#c4c4c4" stroke-width="0.9"/>
<path d="M240.2 768.6Q245.2 754.5 263.8 757Q250.8 762.5 240.2 768.6Z" fill="#666"/>
<path d="M301 778.6Q304.4 762.1 324.6 767Q314.4 771.5 301 778.6Z" fill="#666"/>
<path d="M231.6 779.4Q236 770 246 763M273.5 756.6Q282 760 288 764" fill="none" stroke="#d0d0d0" stroke-width="0.8"/>
<path d="M84 827.5L221.8 859.300L342.6 802.300" fill="none" stroke="#e8262a" stroke-width="3.1" stroke-linejoin="miter"/>
<path d="M101 822.5L84 827.5L91 840M328.2 803L342.6 802.3L337.6 817.3" fill="none" stroke="#e8262a" stroke-width="2.8" stroke-linecap="round" stroke-linejoin="round"/>
<text x="345" y="780" font-size="37" font-weight="700" fill="#666" stroke="#666" stroke-width="0.5" textLength="168.5" lengthAdjust="spacingAndGlyphs">200 x 140</text>
</svg>
</body>
</html>
